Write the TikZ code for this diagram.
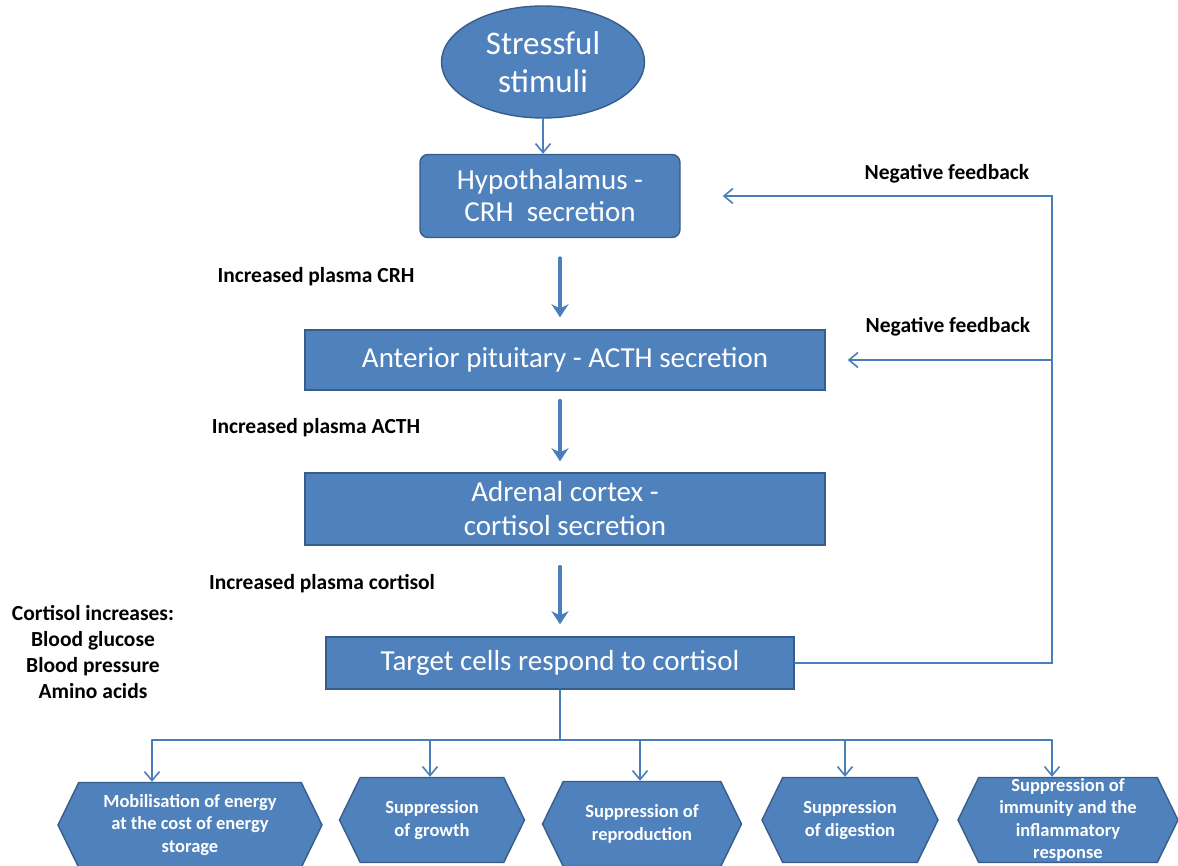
\documentclass[tikz,border=0pt]{standalone}
\usepackage{fontspec}
\setmainfont{Carlito}
\usetikzlibrary{arrows.meta,shapes.geometric,shapes.symbols}
\definecolor{boxblue}{HTML}{4F81BD}
\definecolor{boxedge}{HTML}{385D8A}
\definecolor{linkblue}{HTML}{4A7EBB}

\begin{document}
\begin{tikzpicture}[x=1pt,y=-1pt,line cap=round,
  box/.style={draw=boxedge,fill=boxblue,line width=1.4pt,text=white,align=center,
    inner sep=0pt,font=\fontsize{29}{34}\selectfont},
  hexbox/.style={box,signal,signal to=west and east,signal pointer angle=128,
    font=\bfseries\fontsize{18.5}{22.5}\selectfont},
  lbl/.style={font=\bfseries\fontsize{21.5}{26}\selectfont,align=center},
  thin/.style={draw=linkblue,line width=1.6pt},
  barb/.style={-{Straight Barb[length=9pt,width=15pt]}},
  big/.style={draw=linkblue,line width=3.6pt,-{Stealth[length=13pt,width=17pt,inset=4pt]}}]
  \useasboundingbox (0,0) rectangle (1178,866);

  % main chain
  \node[box,ellipse,minimum width=203pt,minimum height=112pt,
    font=\fontsize{33}{38}\selectfont] (stim) at (543,62) {Stressful\\stimuli};
  \node[box,rounded corners=8pt,minimum width=260pt,minimum height=83pt,
    font=\fontsize{29}{32}\selectfont] (hyp) at (550,196) {Hypothalamus -\\CRH\ \ secretion};
  \node[box,minimum width=520pt,minimum height=60pt] (ant) at (565,360)
    {Anterior pituitary - ACTH secretion};
  \node[box,minimum width=520pt,minimum height=72pt] (adr) at (565,509)
    {Adrenal cortex -\\cortisol secretion};
  \node[box,minimum width=468pt,minimum height=52pt] (tgt) at (560,663)
    {Target cells respond to cortisol};

  \draw[thin,barb] (stim.south) -- (stim.south |- hyp.north);
  \draw[big,shorten <=20pt,shorten >=12pt] (hyp.south -| tgt) -- (ant.north -| tgt);
  \draw[big,shorten <=10pt,shorten >=11pt] (ant.south -| tgt) -- (adr.north -| tgt);
  \draw[big,shorten <=21pt,shorten >=12pt] (adr.south -| tgt) -- (tgt.north);

  \node[lbl] at (316,277) {Increased plasma CRH};
  \node[lbl] at (316,428) {Increased plasma ACTH};
  \node[lbl] at (322,584) {Increased plasma cortisol};
  \node[lbl] at (93,652) {Cortisol increases:\\Blood glucose\\Blood pressure\\Amino acids};

  % feedback loop
  \coordinate (fbtop) at (1052,196);
  \draw[thin,barb,shorten >=42pt] (tgt.east) -| (fbtop) -- (hyp.east);
  \draw[thin,barb,shorten >=22pt] (fbtop |- ant.east) -- (ant.east);
  \node[lbl] at (947,174) {Negative feedback};
  \node[lbl] at (948,327) {Negative feedback};

  % effects of cortisol
  \node[hexbox,minimum width=264pt,minimum height=85pt] (h1) at (190,825)
    {Mobilisation of energy\\at the cost of energy\\storage};
  \node[hexbox,minimum width=185pt,minimum height=85pt] (h2) at (432,820)
    {Suppression\\of growth};
  \node[hexbox,minimum width=199pt,minimum height=85pt] (h3) at (642,824)
    {Suppression of\\reproduction};
  \node[hexbox,minimum width=176pt,minimum height=85pt] (h4) at (850,820)
    {Suppression\\of digestion};
  \node[hexbox,minimum width=220pt,minimum height=85pt,inner ysep=-6pt] (h5) at (1068,820)
    {Suppression of\\immunity and the\\inflammatory\\response};

  \coordinate (hub) at (560,740);
  \draw[thin] (tgt.south) -- (hub);
  \draw[thin] (152,740) -- (1052,740);
  \foreach \h/\x in {h1/152,h2/430,h3/640,h4/845,h5/1052}{
    \coordinate (b\h) at (\x,740);
    \draw[thin,barb] (b\h) -- (b\h |- \h.north);
  }
\end{tikzpicture}
\end{document}
